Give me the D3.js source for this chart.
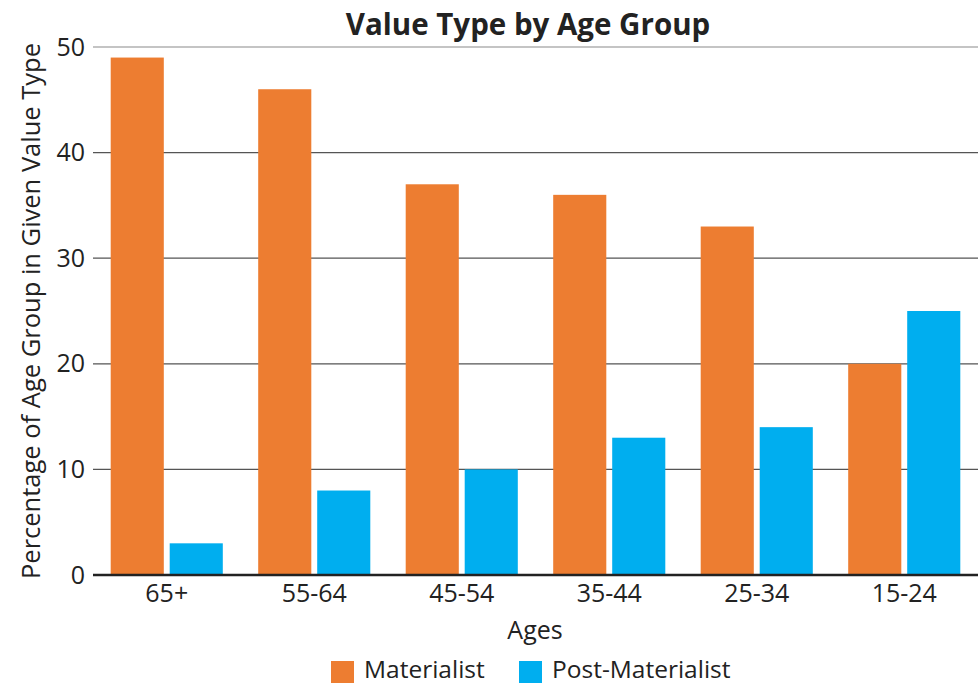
<!DOCTYPE html>
<html>
<head>
<meta charset="utf-8">
<script src="https://cdn.jsdelivr.net/npm/d3@7"></script>
<style>
  html, body { margin: 0; padding: 0; background: #fff; }
  svg { display: block; font-family: "Open Sans", sans-serif; }
</style>
</head>
<body>
<svg id="chart" width="978" height="684"></svg>
<script>
// Age groups and share of each group holding each value type (%)
const ageGroups = ["65+", "55-64", "45-54", "35-44", "25-34", "15-24"];
const materialist = [49, 46, 37, 36, 33, 20];
const postMaterialist = [3, 8, 10, 13, 14, 25];
const seriesNames = ["Materialist", "Post-Materialist"];
const seriesColors = ["#ED7D31", "#00AEEF"];
const yTicks = [0, 10, 20, 30, 40, 50];

const svg = d3.select("#chart");
const margin = { left: 93, right: 0, top: 47, bottom: 109 };
const W = 978, H = 684;
const plotBottom = H - margin.bottom; // 575
const textColor = "#222";

const x = d3.scaleBand().domain(ageGroups).range([margin.left, W - margin.right]).paddingInner(0.24).paddingOuter(0.12);
const x1 = d3.scaleBand().domain(seriesNames).range([0, x.bandwidth()]).paddingInner(0.1);
const y = d3.scaleLinear().domain([0, 50]).range([plotBottom, margin.top]);

// Horizontal gridlines
svg.append("g").selectAll("line").data(yTicks.filter(d => d > 0)).join("line")
  .attr("x1", margin.left).attr("x2", W)
  .attr("y1", d => y(d)).attr("y2", d => y(d))
  .attr("stroke", d => d === 50 ? "#8a8a8a" : "#555").attr("stroke-width", 1.2);

// Bars
const rows = ageGroups.map((g, i) => ({ group: g, values: [materialist[i], postMaterialist[i]] }));
const groups = svg.append("g").selectAll("g").data(rows).join("g")
  .attr("transform", d => `translate(${x(d.group)},0)`);
groups.selectAll("rect").data(d => d.values.map((v, j) => ({ name: seriesNames[j], v, j }))).join("rect")
  .attr("x", d => x1(d.name)).attr("width", x1.bandwidth())
  .attr("y", d => y(d.v)).attr("height", d => y(0) - y(d.v))
  .attr("fill", d => seriesColors[d.j]);

// Baseline
svg.append("line").attr("x1", margin.left).attr("x2", W)
  .attr("y1", y(0)).attr("y2", y(0)).attr("stroke", textColor).attr("stroke-width", 2.5);

// Y axis labels
const yAxis = d3.axisLeft(y).tickValues(yTicks).tickSize(0).tickPadding(8);
const gy = svg.append("g").attr("transform", `translate(${margin.left},0)`).call(yAxis);
gy.select(".domain").remove();
gy.selectAll("text").attr("font-size", 25).attr("fill", textColor).attr("font-family", "Open Sans, sans-serif");

// X axis labels
const xAxis = d3.axisBottom(x).tickSize(0).tickPadding(9);
const gx = svg.append("g").attr("transform", `translate(0,${plotBottom})`).call(xAxis);
gx.select(".domain").remove();
gx.selectAll("text").attr("font-size", 25).attr("fill", textColor).attr("font-family", "Open Sans, sans-serif");

// Title
svg.append("text").attr("x", 528).attr("y", 35).attr("text-anchor", "middle")
  .attr("font-size", 29.5).attr("font-weight", 700).attr("fill", textColor)
  .text("Value Type by Age Group");

// Axis titles
svg.append("text").attr("x", 535).attr("y", 639).attr("text-anchor", "middle")
  .attr("font-size", 25).attr("fill", textColor).text("Ages");
svg.append("text").attr("transform", `translate(40,311) rotate(-90)`).attr("text-anchor", "middle")
  .attr("font-size", 25.5).attr("fill", textColor).text("Percentage of Age Group in Given Value Type");

// Legend
const legendX = [331, 519];
const legend = svg.append("g").selectAll("g").data(seriesNames).join("g")
  .attr("transform", (d, i) => `translate(${legendX[i]},661)`);
legend.append("rect").attr("width", 23).attr("height", 22).attr("fill", (d, i) => seriesColors[i]);
legend.append("text").attr("x", 33).attr("y", 17).attr("font-size", 24.5).attr("fill", textColor).text(d => d);
</script>
</body>
</html>
